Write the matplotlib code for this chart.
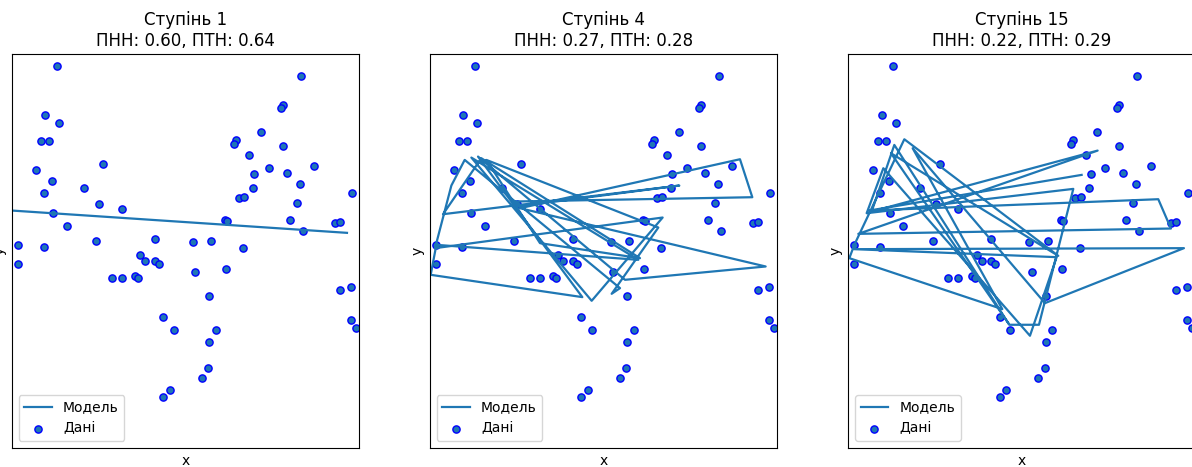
import matplotlib
matplotlib.use("Agg")
import matplotlib.pyplot as plt

# scattered samples (same in every panel)
data_x = [1.35, 8.68, 1.01, 1.43, 8.14, 8.08, 0.89, 1.13, 6.74, 6.68,
          7.47, 8.14, 7.13, 2.75, 0.74, 7.71, 9.08, 8.26, 7.28, 1.22,
          2.17, 7.23, 8.65, 0.97, 10.21, 6.82, 6.98, 2.63, 8.56, 3.31,
          1.25, 6.40, 6.46, 8.35, 9.70, 9.85, 1.65, 8.74, 0.18, 0.97,
          2.54, 4.30, 5.44, 5.99, 6.95, 3.86, 4.01, 4.30, 4.41, 0.18,
          6.42, 5.51, 3.00, 3.31, 3.71, 3.80, 5.93, 9.85, 10.18, 4.55,
          4.86, 6.12, 5.93, 10.18, 10.32, 5.90, 5.71, 4.74, 4.55]
data_y = [11.45, 11.15, 9.98, 9.74, 10.26, 10.17, 9.19, 9.19, 9.22, 9.10,
          9.46, 9.03, 8.76, 8.51, 8.33, 8.39, 8.45, 8.24, 8.21, 7.99,
          7.78, 7.78, 7.90, 7.62, 7.62, 7.48, 7.51, 7.29, 7.32, 7.14,
          7.04, 6.83, 6.78, 6.83, 6.74, 6.77, 6.65, 6.49, 6.06, 6.00,
          6.19, 6.25, 6.16, 6.19, 5.97, 5.76, 5.58, 5.58, 5.48, 5.48,
          5.33, 5.24, 5.08, 5.06, 5.14, 5.08, 4.53, 4.72, 4.81, 3.89,
          3.52, 3.52, 3.16, 3.80, 3.58, 2.38, 2.08, 1.72, 1.50]

# model predictions, drawn in the (unsorted) order of the test points
deg1_x = [0.00, 10.06]
deg1_y = [7.10, 6.43]

deg4_x = [2.51, 9.68, 9.31, 2.71, 10.08, 5.86, 1.45, 4.58, 0.03, 0.20,
          6.26, 1.25, 4.86, 6.99, 0.16, 0.65, 1.05, 5.71, 5.46, 6.86,
          1.70, 3.31, 6.31, 1.55, 0.40, 7.49, 2.61]
deg4_y = [7.37, 7.50, 8.64, 7.17, 5.42, 5.02, 8.72, 4.50, 5.17, 6.07,
          5.62, 8.69, 4.39, 6.89, 5.97, 7.85, 8.62, 4.77, 4.60, 6.59,
          8.62, 6.12, 5.67, 8.67, 6.99, 7.85, 7.22]

deg15_x = [7.01, 0.64, 9.31, 9.69, 0.31, 7.49, 0.71, 1.39, 4.84, 5.73,
           6.76, 0.56, 1.06, 5.46, 6.26, 0.18, 10.08, 5.91, 1.94, 4.63,
           0.04, 0.19, 1.69, 6.31, 1.29, 4.81]
deg15_y = [8.17, 7.10, 7.44, 6.56, 6.40, 8.90, 7.07, 9.07, 3.67, 3.67,
           7.75, 7.02, 8.37, 3.34, 5.70, 5.94, 5.97, 4.32, 8.97, 4.14,
           5.67, 6.07, 9.24, 5.74, 8.82, 3.72]

degrees = [1, 4, 15]
train_err = [0.60, 0.27, 0.22]
test_err = [0.64, 0.28, 0.29]
lines = [(deg1_x, deg1_y), (deg4_x, deg4_y), (deg15_x, deg15_y)]

W, H = 1192, 467
fig = plt.figure(figsize=(W / 100, H / 100), dpi=100)

lefts = [11.7, 429.7, 848.0]
for i in range(3):
    ax = fig.add_axes([lefts[i] / W, 19 / H, 347.6 / W, 394 / H])
    lx, ly = lines[i]
    ax.plot(lx, ly, lw=1.6, label="Модель")
    ax.scatter(data_x, data_y, edgecolor="b", s=27, label="Дані")
    ax.set_xticks(())
    ax.set_yticks(())
    ax.set_xlabel("x")
    ax.set_ylabel("y")
    ax.set_xlim(0, 10.43)
    ax.set_ylim(-0.03, 11.8)
    ax.legend(loc="lower left")
    ax.set_title("Ступінь {}\nПНН: {:.2f}, ПТН: {:.2f}".format(
        degrees[i], train_err[i], test_err[i]))

fig.savefig("out.png", dpi=100)
